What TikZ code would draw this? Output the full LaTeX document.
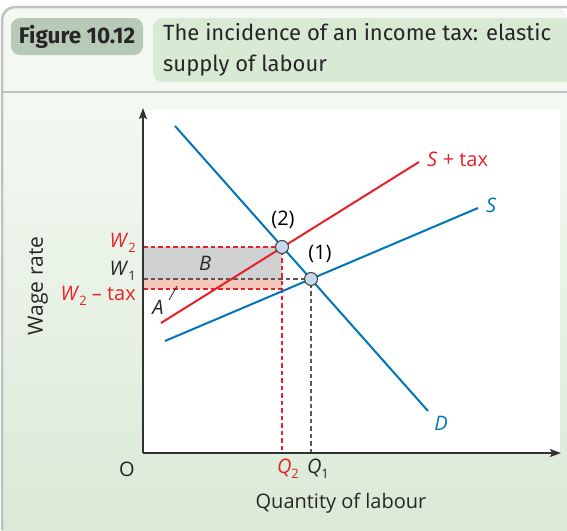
\documentclass[tikz,border=0pt]{standalone}
\usepackage{fontspec}
\setmainfont{Open Sans}
\newfontfamily\hdfont{Fira Sans}
\usetikzlibrary{arrows.meta}
\definecolor{ublue}{RGB}{0,118,186}
\definecolor{ured}{RGB}{232,32,42}
\definecolor{framegray}{RGB}{192,194,194}
\definecolor{hdbg}{RGB}{243,248,241}
\definecolor{bodytop}{RGB}{244,249,243}
\definecolor{bodybot}{RGB}{218,234,214}
\definecolor{figgray}{RGB}{183,202,184}
\definecolor{titlegreen}{RGB}{216,234,212}
\definecolor{areaB}{RGB}{208,209,211}
\definecolor{areaA}{RGB}{244,199,186}
\definecolor{ptfill}{RGB}{197,217,234}
\definecolor{axisgray}{RGB}{50,50,50}
\newcommand\sbs[1]{\raisebox{-0.45ex}{\fontsize{13}{13}\selectfont #1}}
\tikzset{
  curve/.style={line width=2pt},
  axisline/.style={line width=1.4pt, draw=axisgray, -{Stealth[length=11pt,width=8pt,inset=2pt]}},
  reddash/.style={ured, dashed, dash pattern=on 4.5pt off 3pt, line width=1.2pt},
  graydash/.style={black!65, dashed, dash pattern=on 4.5pt off 3pt, line width=1.2pt},
  pt/.style={circle, draw=black!75, fill=ptfill, line width=1pt, minimum size=13pt, inner sep=0pt},
  lbl/.style={font=\fontsize{20}{22}\selectfont, inner sep=1pt},
}
\begin{document}
\begin{tikzpicture}[x=1pt,y=-1pt]
\useasboundingbox (0,0) rectangle (567,530);
% backgrounds
\fill[white] (0,0) rectangle (567,530);
\fill[hdbg, rounded corners=13pt] (2,7) -- (567,7) -- (567,92) -- (2,92) -- cycle;
\fill[hdbg] (2,50) rectangle (567,92);
\shade[top color=bodytop, bottom color=bodybot] (2,92) rectangle (567,530);
\draw[framegray, line width=2.5pt, rounded corners=13pt] (2,530) -- (2,7) -- (567,7);
\draw[framegray, line width=2.5pt] (2,92) -- (567,92);
% header
\node[fill=figgray, rounded corners=9pt, minimum width=132pt, minimum height=37pt, inner sep=0pt,
  font=\hdfont\bfseries\fontsize{22.5}{24}\selectfont, text=black!85] (fig) at (77,36.5) {Figure 10.12};
\fill[titlegreen, rounded corners=10pt] (153,18) rectangle (580,82);
\node[anchor=north west, align=left, inner sep=0pt, font=\hdfont\fontsize{22}{31}\selectfont, text=black!85]
  (title) at (163,23) {The incidence of an income tax: elastic\\supply of labour};
% plot area
\fill[white] (143,110) rectangle (560,453);
\coordinate (O) at (143,453);
\coordinate (ytop) at (143,108);
\coordinate (xend) at (561,453);
% areas
\fill[areaB] (143,247) rectangle (282,279);
\fill[areaA] (143,279) rectangle (282,289);
% dashed lines
\coordinate (P2) at (282,247);
\coordinate (P1) at (311,279);
\coordinate (W2a) at (143,247);
\coordinate (W1a) at (143,279);
\coordinate (Wta) at (143,289);
\coordinate (Wtb) at (282,289);
\coordinate (Q2a) at (282,453);
\coordinate (Q1a) at (311,453);
\draw[reddash] (W2a) -- (P2) -- (Q2a);
\draw[reddash] (Wta) -- (Wtb);
\draw[graydash] (W1a) -- (P1) -- (Q1a);
% curves
\coordinate (Da) at (175,126);
\coordinate (Db) at (428,411);
\coordinate (Sa) at (165,341);
\coordinate (Sb) at (478,208);
\coordinate (Ta) at (161,323);
\coordinate (Tb) at (419,162);
\draw[curve, ured] (Ta) -- (Tb);
\draw[curve, ublue] (Sa) -- (Sb);
\draw[curve, ublue] (Da) -- (Db);
\node[pt] (n2) at (P2) {};
\node[pt] (n1) at (P1) {};
% axes
\draw[axisline] (O) -- (ytop);
\draw[axisline] (O) -- (xend);
% labels
\node[lbl] (l2) at (283,220) {(2)};
\node[lbl] (l1) at (320,254) {(1)};
\node[lbl, ured, anchor=west] (lT) at (426,159) {\textit{S} + tax};
\node[lbl, ublue, anchor=west] (lS) at (485,205) {\textit{S}};
\node[lbl, ublue] (lD) at (441,423) {\textit{D}};
\node[lbl, ured, anchor=east] (lW2) at (137,243) {\textit{W}\sbs{2}};
\node[lbl, black!85, anchor=east] (lW1) at (137,271) {\textit{W}\sbs{1}};
\node[lbl, ured, anchor=east] (lWt) at (137,296) {\textit{W}\sbs{2} – tax};
\node[lbl, black!85] (lB) at (205,263) {\textit{B}};
\node[lbl, black!85] (lA) at (158,307) {\textit{A}};
\coordinate (Aa) at (169,300);
\coordinate (Ab) at (177,286);
\draw[black!85, line width=0.8pt] (Aa) -- (Ab);
\node[lbl, black!85] (lO) at (127,469) {O};
\node[lbl, ured] (lQ2) at (288,469) {\textit{Q}\sbs{2}};
\node[lbl, black!85] (lQ1) at (318,469) {\textit{Q}\sbs{1}};
\node[lbl, black!85] (lx) at (341,503) {Quantity of labour};
\node[black!85, rotate=90, font=\fontsize{21}{23}\selectfont, inner sep=1pt] (ly) at (38,286) {Wage rate};
\end{tikzpicture}
\end{document}
